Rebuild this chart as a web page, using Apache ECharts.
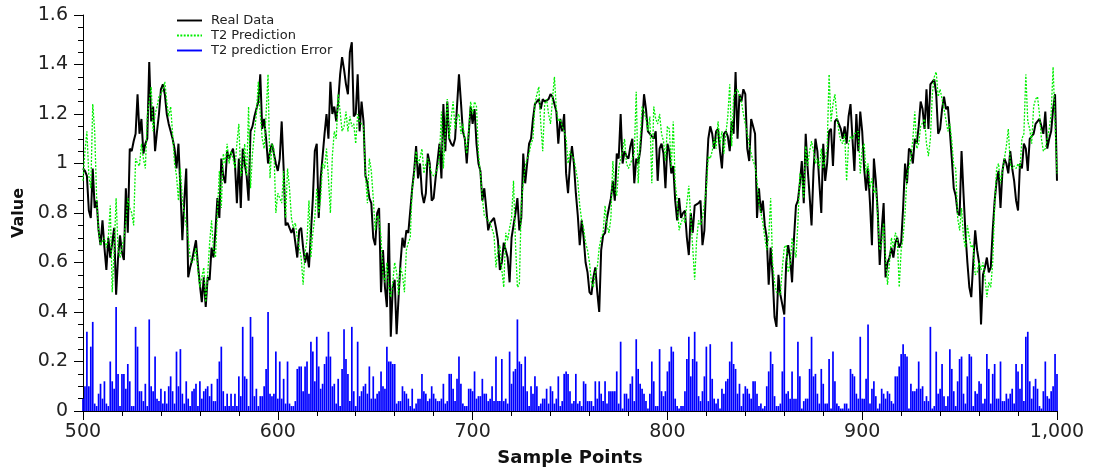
<!DOCTYPE html>
<html>
<head>
<meta charset="utf-8">
<script src="https://cdn.jsdelivr.net/npm/echarts@6/dist/echarts.min.js"></script>
<style>
  html, body { margin: 0; padding: 0; background: #fff; }
  #main { width: 1100px; height: 473px; }
</style>
</head>
<body>
<div id="main"></div>
<script>
// first sample index on the x axis
var startSample = 500;

// Real Data, samples 500..1000
var realData = [
  0.98, 0.97, 0.95, 0.81, 0.78, 0.98, 0.82, 0.85, 0.73, 0.67,
  0.77, 0.66, 0.57, 0.70, 0.62, 0.68, 0.74, 0.47, 0.62, 0.71,
  0.64, 0.61, 0.90, 0.72, 1.06, 1.05, 1.09, 1.12, 1.28, 1.12,
  1.18, 1.04, 1.08, 1.10, 1.41, 1.17, 1.23, 1.05, 1.13, 1.20,
  1.30, 1.32, 1.28, 1.20, 1.16, 1.13, 1.10, 1.06, 0.98, 1.08,
  0.90, 0.69, 0.85, 0.98, 0.54, 0.58, 0.61, 0.61, 0.69, 0.59,
  0.51, 0.44, 0.54, 0.42, 0.54, 0.53, 0.66, 0.62, 0.73, 0.86,
  0.78, 1.02, 0.95, 0.92, 1.05, 1.02, 1.04, 1.06, 1.00, 0.84,
  1.02, 0.82, 1.06, 1.00, 0.95, 0.85, 1.13, 1.15, 1.19, 1.19,
  1.25, 1.36, 1.14, 1.18, 1.10, 1.00, 1.05, 1.08, 1.04, 1.00,
  0.97, 1.02, 1.17, 0.98, 0.75, 0.76, 0.74, 0.72, 0.74, 0.74,
  0.62, 0.73, 0.74, 0.66, 0.60, 0.64, 0.58, 0.72, 0.86, 1.05,
  1.08, 0.78, 0.94, 1.03, 1.12, 1.20, 1.10, 1.33, 1.20, 1.23,
  1.17, 1.25, 1.36, 1.43, 1.38, 1.32, 1.28, 1.45, 1.49, 1.19,
  1.20, 1.36, 1.13, 1.25, 1.17, 0.95, 0.92, 0.86, 0.84, 0.70,
  0.67, 0.80, 0.82, 0.48, 0.65, 0.50, 0.42, 0.76, 0.30, 0.50,
  0.53, 0.31, 0.46, 0.60, 0.70, 0.66, 0.73, 0.72, 0.72, 0.90,
  0.97, 1.07, 0.94, 1.00, 0.88, 0.84, 0.88, 1.04, 1.00, 0.85,
  0.86, 0.94, 0.94, 1.08, 0.94, 1.24, 1.05, 1.25, 1.10, 1.08,
  1.07, 1.10, 1.23, 1.36, 1.25, 1.13, 1.10, 1.00, 1.12, 1.23,
  1.16, 1.22, 1.08, 1.00, 0.97, 0.85, 0.90, 0.82, 0.73, 0.76,
  0.76, 0.78, 0.74, 0.69, 0.57, 0.60, 0.68, 0.65, 0.62, 0.52,
  0.70, 0.75, 0.80, 0.86, 0.73, 0.78, 1.04, 0.92, 1.00, 1.08,
  1.10, 1.18, 1.24, 1.24, 1.26, 1.22, 1.26, 1.25, 1.25, 1.26,
  1.28, 1.27, 1.24, 1.21, 1.08, 1.18, 1.13, 1.20, 0.96, 0.88,
  1.00, 1.07, 1.00, 0.88, 0.79, 0.67, 0.77, 0.70, 0.60, 0.56,
  0.48, 0.47, 0.54, 0.58, 0.48, 0.40, 0.65, 0.71, 0.72, 0.78,
  0.82, 0.86, 0.93, 0.85, 1.04, 1.02, 1.20, 1.00, 1.05, 1.03,
  1.02, 1.07, 1.10, 0.92, 1.02, 1.00, 1.05, 1.15, 1.28, 1.22,
  1.13, 1.12, 1.12, 1.10, 1.13, 0.93, 1.06, 1.08, 1.04, 0.90,
  1.08, 1.05, 0.96, 0.99, 0.85, 0.77, 0.86, 0.78, 0.80, 0.81,
  0.70, 0.63, 0.80, 0.72, 0.83, 0.83, 0.84, 0.85, 0.67, 0.73,
  0.94, 1.10, 1.15, 1.12, 1.06, 1.13, 1.14, 1.05, 0.98, 1.12,
  1.13, 1.11, 1.05, 1.17, 1.12, 1.37, 1.10, 1.28, 1.25, 1.30,
  1.28, 1.06, 1.01, 1.18, 1.18, 1.12, 0.78, 0.90, 0.80, 0.85,
  0.75, 0.70, 0.51, 0.66, 0.55, 0.38, 0.34, 0.55, 0.47, 0.43,
  0.39, 0.60, 0.67, 0.62, 0.52, 0.70, 0.83, 0.85, 0.92, 1.01,
  0.84, 1.12, 0.98, 0.87, 0.75, 0.97, 1.10, 1.05, 0.92, 0.80,
  1.08, 0.93, 1.00, 1.13, 1.14, 0.99, 1.17, 1.18, 1.18, 1.14,
  1.10, 1.15, 1.08, 1.19, 1.24, 1.10, 0.97, 1.20, 1.05, 1.21,
  1.13, 0.98, 0.89, 0.98, 0.84, 0.67, 1.02, 0.93, 0.80, 0.59,
  0.73, 0.84, 0.54, 0.60, 0.62, 0.66, 0.62, 0.68, 0.70, 0.66,
  0.68, 0.82, 1.00, 0.92, 1.06, 1.05, 1.00, 1.10, 1.08, 1.15,
  1.25, 1.22, 1.14, 1.30, 1.14, 1.32, 1.33, 1.34, 1.28, 1.12,
  1.14, 1.22, 1.27, 1.22, 1.23, 1.13, 1.02, 0.90, 0.87, 0.80,
  0.79, 1.05, 0.88, 0.72, 0.60, 0.50, 0.46, 0.60, 0.73, 0.65,
  0.60, 0.35, 0.55, 0.58, 0.62, 0.56, 0.58, 0.73, 0.85, 0.93,
  0.97, 0.82, 0.97, 1.02, 1.00, 0.96, 1.05, 0.98, 0.93, 0.85,
  0.81, 1.00, 0.98, 1.08, 1.06, 0.97, 1.10, 1.10, 1.12, 1.16,
  1.16, 1.18, 1.15, 1.12, 1.21, 1.06, 1.10, 1.13, 1.22, 1.28,
  0.93
];

// T2 Prediction, samples 500..1000
var predData = [
  0.93, 1.05, 1.13, 0.95, 0.90, 1.24, 1.13, 0.86, 0.73, 0.67,
  0.67, 0.70, 0.66, 0.70, 0.83, 0.48, 0.65, 0.86, 0.65, 0.62,
  0.66, 0.70, 0.76, 0.86, 0.82, 0.80, 0.75, 1.02, 1.00, 0.99,
  1.08, 1.02, 0.98, 1.19, 1.25, 1.31, 1.13, 1.20, 1.23, 1.27,
  1.28, 1.30, 1.33, 1.25, 1.19, 1.23, 1.12, 1.00, 0.95, 0.85,
  0.98, 0.85, 0.80, 0.75, 0.70, 0.62, 0.60, 0.61, 0.66, 0.57,
  0.50, 0.54, 0.58, 0.44, 0.55, 0.68, 0.77, 0.65, 0.62, 0.80,
  0.97, 0.82, 1.04, 1.00, 1.08, 1.00, 1.05, 1.02, 0.98, 1.08,
  1.16, 0.95, 0.98, 1.08, 0.95, 1.23, 0.90, 1.04, 1.12, 1.20,
  1.33, 1.20, 1.10, 1.06, 1.20, 1.36, 0.94, 1.08, 1.06, 0.80,
  0.88, 0.88, 0.84, 0.97, 0.78, 0.98, 0.90, 0.78, 0.74, 0.76,
  0.70, 0.66, 0.62, 0.51, 0.64, 0.69, 0.85, 0.62, 0.72, 0.78,
  0.90, 0.80, 0.86, 1.00, 0.98, 1.06, 0.94, 0.80, 1.03, 1.13,
  1.10, 1.28, 1.21, 1.13, 1.15, 1.21, 1.13, 1.19, 1.15, 1.16,
  1.08, 1.20, 1.17, 1.17, 1.15, 0.95, 0.84, 1.02, 0.97, 0.86,
  0.73, 0.79, 0.78, 0.70, 0.55, 0.52, 0.60, 0.50, 0.46, 0.52,
  0.60, 0.56, 0.47, 0.58, 0.55, 0.48, 0.65, 0.68, 0.70, 0.90,
  0.95, 1.05, 1.00, 1.02, 1.06, 0.96, 1.00, 1.02, 0.99, 0.96,
  0.95, 0.96, 0.98, 1.03, 1.21, 0.98, 1.13, 1.26, 1.10, 1.18,
  1.25, 1.14, 1.19, 1.20, 1.12, 1.16, 1.10, 1.04, 1.13, 1.25,
  1.20, 1.25, 1.23, 1.04, 0.96, 0.86, 0.79, 0.78, 0.77, 0.76,
  0.76, 0.71, 0.58, 0.65, 0.67, 0.57, 0.50, 0.72, 0.69, 0.74,
  0.78, 0.93, 0.68, 0.50, 0.51, 0.84, 0.92, 0.99, 1.02, 1.04,
  1.08, 1.10, 1.24, 1.28, 1.31, 1.16, 1.05, 1.24, 1.26, 1.20,
  1.16, 1.26, 1.35, 1.22, 1.17, 1.18, 1.15, 1.13, 1.10, 1.00,
  1.05, 1.03, 1.02, 1.02, 0.93, 0.83, 0.77, 0.74, 0.68, 0.65,
  0.60, 0.52, 0.50, 0.56, 0.58, 0.66, 0.70, 0.72, 0.83, 0.75,
  0.72, 0.78, 1.01, 0.90, 0.87, 0.98, 1.02, 1.05, 1.10, 1.00,
  0.98, 1.00, 1.02, 1.04, 1.29, 0.92, 1.09, 1.23, 1.21, 1.18,
  1.13, 1.19, 0.92, 1.23, 1.18, 1.16, 1.20, 1.12, 1.09, 1.01,
  1.15, 1.14, 0.98, 1.17, 0.92, 0.85, 0.73, 0.76, 0.78, 0.76,
  0.84, 0.91, 0.78, 0.66, 0.53, 0.69, 0.77, 0.75, 0.78, 0.78,
  0.90, 1.03, 1.02, 1.05, 1.10, 1.06, 1.17, 1.08, 1.13, 1.04,
  1.12, 1.19, 1.32, 1.07, 1.27, 1.29, 1.30, 1.30, 1.25, 1.20,
  1.16, 1.12, 1.08, 1.04, 1.01, 0.99, 0.93, 0.84, 0.80, 0.76,
  0.70, 0.65, 0.70, 0.86, 0.60, 0.52, 0.48, 0.48, 0.47, 0.58,
  0.66, 0.67, 0.56, 0.59, 0.70, 0.66, 0.62, 0.76, 0.96, 0.94,
  0.86, 1.07, 0.99, 1.05, 1.09, 1.05, 1.00, 1.02, 0.98, 1.06,
  0.98, 1.02, 1.06, 1.36, 1.17, 1.24, 1.28, 1.19, 1.13, 1.09,
  1.08, 1.12, 0.93, 1.08, 1.11, 1.10, 1.12, 1.12, 1.13, 0.96,
  1.06, 1.08, 0.96, 1.00, 0.90, 0.94, 0.88, 0.90, 0.78, 0.65,
  0.68, 0.76, 0.62, 0.51, 0.60, 0.70, 0.66, 0.72, 0.70, 0.50,
  0.65, 0.70, 0.80, 0.95, 0.95, 1.02, 1.10, 1.21, 1.06, 1.08,
  1.15, 1.15, 1.18, 1.08, 1.03, 1.10, 1.28, 1.35, 1.37, 1.27,
  1.30, 1.26, 1.22, 1.22, 1.13, 1.16, 1.09, 0.99, 0.98, 0.78,
  0.73, 0.82, 0.70, 0.66, 0.75, 0.70, 0.66, 0.67, 0.55, 0.56,
  0.60, 0.57, 0.60, 0.54, 0.46, 0.52, 0.50, 0.60, 0.83, 0.98,
  1.00, 0.92, 0.97, 1.02, 1.07, 1.14, 1.00, 0.98, 0.99, 0.98,
  1.00, 0.98, 1.10, 1.12, 1.36, 1.17, 1.14, 1.08, 1.23, 1.26,
  1.27, 1.20, 1.10, 1.05, 1.06, 1.10, 1.14, 1.20, 1.39, 1.16,
  0.96
];

// T2 prediction Error, samples 500..1000
var errorData = [
  0.05, 0.10, 0.32, 0.10, 0.26, 0.36, 0.03, 0.02, 0.07, 0.11,
  0.05, 0.12, 0.03, 0.02, 0.20, 0.12, 0.09, 0.42, 0.15, 0.02,
  0.15, 0.15, 0.09, 0.19, 0.12, 0.02, 0.02, 0.34, 0.26, 0.08,
  0.08, 0.04, 0.11, 0.02, 0.37, 0.10, 0.08, 0.22, 0.05, 0.04,
  0.09, 0.03, 0.08, 0.03, 0.10, 0.14, 0.08, 0.03, 0.24, 0.10,
  0.25, 0.07, 0.03, 0.12, 0.05, 0.02, 0.08, 0.09, 0.11, 0.02,
  0.12, 0.05, 0.08, 0.09, 0.10, 0.06, 0.11, 0.04, 0.04, 0.13,
  0.20, 0.26, 0.08, 0.02, 0.07, 0.02, 0.07, 0.02, 0.07, 0.02,
  0.14, 0.06, 0.34, 0.14, 0.13, 0.02, 0.38, 0.30, 0.06, 0.09,
  0.02, 0.06, 0.06, 0.10, 0.17, 0.40, 0.07, 0.06, 0.07, 0.24,
  0.05, 0.20, 0.05, 0.13, 0.03, 0.20, 0.03, 0.02, 0.02, 0.04,
  0.17, 0.18, 0.18, 0.08, 0.18, 0.20, 0.07, 0.28, 0.24, 0.12,
  0.30, 0.18, 0.09, 0.11, 0.19, 0.22, 0.32, 0.22, 0.10, 0.11,
  0.03, 0.13, 0.02, 0.17, 0.33, 0.21, 0.15, 0.04, 0.34, 0.08,
  0.02, 0.28, 0.06, 0.08, 0.10, 0.11, 0.07, 0.18, 0.05, 0.14,
  0.05, 0.07, 0.08, 0.16, 0.10, 0.09, 0.26, 0.20, 0.20, 0.19,
  0.19, 0.03, 0.04, 0.04, 0.10, 0.08, 0.07, 0.05, 0.02, 0.09,
  0.01, 0.03, 0.05, 0.05, 0.15, 0.08, 0.07, 0.04, 0.05, 0.10,
  0.07, 0.05, 0.04, 0.04, 0.05, 0.11, 0.03, 0.04, 0.15, 0.15,
  0.09, 0.04, 0.13, 0.22, 0.11, 0.03, 0.02, 0.02, 0.09, 0.09,
  0.08, 0.16, 0.05, 0.06, 0.06, 0.13, 0.07, 0.07, 0.04, 0.05,
  0.10, 0.04, 0.22, 0.04, 0.04, 0.21, 0.04, 0.05, 0.03, 0.24,
  0.11, 0.16, 0.17, 0.37, 0.20, 0.19, 0.10, 0.22, 0.08, 0.02,
  0.10, 0.07, 0.14, 0.10, 0.02, 0.03, 0.05, 0.05, 0.09, 0.03,
  0.10, 0.08, 0.03, 0.05, 0.14, 0.02, 0.04, 0.15, 0.16, 0.15,
  0.08, 0.03, 0.04, 0.15, 0.03, 0.04, 0.02, 0.12, 0.11, 0.04,
  0.04, 0.04, 0.02, 0.12, 0.05, 0.12, 0.07, 0.04, 0.12, 0.03,
  0.08, 0.08, 0.08, 0.08, 0.16, 0.03, 0.28, 0.01, 0.07, 0.07,
  0.05, 0.11, 0.14, 0.04, 0.29, 0.17, 0.11, 0.09, 0.07, 0.04,
  0.01, 0.07, 0.20, 0.12, 0.02, 0.02, 0.25, 0.08, 0.06, 0.08,
  0.16, 0.20, 0.26, 0.24, 0.05, 0.02, 0.01, 0.02, 0.02, 0.08,
  0.21, 0.30, 0.14, 0.21, 0.32, 0.20, 0.06, 0.04, 0.08, 0.14,
  0.26, 0.04, 0.27, 0.13, 0.05, 0.03, 0.05, 0.01, 0.09, 0.07,
  0.12, 0.13, 0.20, 0.28, 0.19, 0.17, 0.07, 0.11, 0.02, 0.07,
  0.10, 0.09, 0.07, 0.05, 0.12, 0.12, 0.07, 0.02, 0.03, 0.01,
  0.02, 0.10, 0.16, 0.24, 0.19, 0.06, 0.02, 0.02, 0.03, 0.16,
  0.38, 0.07, 0.08, 0.05, 0.16, 0.05, 0.05, 0.28, 0.14, 0.01,
  0.04, 0.05, 0.05, 0.17, 0.30, 0.14, 0.15, 0.07, 0.03, 0.17,
  0.11, 0.03, 0.03, 0.21, 0.01, 0.24, 0.12, 0.03, 0.02, 0.01,
  0.01, 0.03, 0.03, 0.01, 0.17, 0.15, 0.14, 0.07, 0.05, 0.30,
  0.05, 0.05, 0.13, 0.35, 0.03, 0.09, 0.12, 0.06, 0.01, 0.03,
  0.09, 0.07, 0.05, 0.08, 0.07, 0.04, 0.03, 0.14, 0.14, 0.18,
  0.23, 0.27, 0.23, 0.22, 0.01, 0.11, 0.08, 0.08, 0.09, 0.20,
  0.09, 0.10, 0.04, 0.06, 0.04, 0.34, 0.01, 0.02, 0.24, 0.07,
  0.09, 0.19, 0.06, 0.02, 0.06, 0.25, 0.17, 0.08, 0.02, 0.12,
  0.21, 0.22, 0.07, 0.03, 0.14, 0.23, 0.22, 0.02, 0.08, 0.07,
  0.12, 0.11, 0.03, 0.05, 0.23, 0.17, 0.03, 0.15, 0.19, 0.05,
  0.05, 0.20, 0.04, 0.04, 0.07, 0.05, 0.07, 0.09, 0.03, 0.19,
  0.16, 0.09, 0.19, 0.04, 0.30, 0.32, 0.12, 0.05, 0.10, 0.13,
  0.09, 0.02, 0.01, 0.08, 0.20, 0.06, 0.05, 0.08, 0.10, 0.23,
  0.15
];

var chart = echarts.init(document.getElementById('main'), null, { renderer: 'canvas' });

// pair each value with its sample index
function withIndex(arr) {
  return arr.map(function (v, i) { return [startSample + i, v]; });
}

var fontFamily = 'DejaVu Sans';

// legend icons: plain line, dotted line
var solidIcon = 'path://M0,0 L26,0 L26,2 L0,2 Z';
var dottedIcon = 'path://M0,0h2v2h-2z M3.5,0h2v2h-2z M7,0h2v2h-2z M10.5,0h2v2h-2z ' +
  'M14,0h2v2h-2z M17.5,0h2v2h-2z M21,0h2v2h-2z M24.5,0h1.5v2h-1.5z';

var option = {
  animation: false,
  backgroundColor: '#fff',
  textStyle: { fontFamily: fontFamily },
  grid: {
    left: 83,
    right: 43,
    top: 15,
    bottom: 62
  },
  legend: {
    orient: 'vertical',
    left: 172,
    top: 8,
    itemWidth: 25,
    itemHeight: 10,
    itemGap: 0,
    textStyle: {
      fontFamily: fontFamily,
      fontSize: 13,
      color: '#222',
      lineHeight: 15,
      padding: [0, 0, 0, 4]
    },
    data: [
      { name: 'Real Data', icon: solidIcon },
      { name: 'T2 Prediction', icon: dottedIcon },
      { name: 'T2 prediction Error', icon: solidIcon }
    ]
  },
  xAxis: {
    type: 'value',
    min: 500,
    max: 1000,
    interval: 100,
    name: 'Sample Points',
    nameLocation: 'middle',
    nameGap: 38,
    nameTextStyle: {
      fontFamily: fontFamily,
      fontWeight: 'bold',
      fontSize: 18,
      color: '#111'
    },
    splitLine: { show: false },
    axisLine: { lineStyle: { color: '#000', width: 1 } },
    axisTick: { inside: false, length: 9, lineStyle: { color: '#000' } },
    minorTick: { show: true, splitNumber: 5, length: 5, lineStyle: { color: '#000' } },
    axisLabel: {
      fontFamily: fontFamily,
      fontSize: 19,
      color: '#222',
      margin: 12,
      formatter: function (v) { return v.toLocaleString('en-US'); }
    }
  },
  yAxis: {
    type: 'value',
    min: 0,
    max: 1.6,
    interval: 0.2,
    name: 'Value',
    nameLocation: 'middle',
    nameGap: 55,
    nameTextStyle: {
      fontFamily: fontFamily,
      fontWeight: 'bold',
      fontSize: 16,
      color: '#111'
    },
    splitLine: { show: false },
    axisLine: { show: true, lineStyle: { color: '#000', width: 1 } },
    axisTick: { show: true, inside: false, length: 9, lineStyle: { color: '#000' } },
    minorTick: { show: true, splitNumber: 4, length: 5, lineStyle: { color: '#000' } },
    axisLabel: {
      fontFamily: fontFamily,
      fontSize: 19,
      color: '#222',
      margin: 15
    }
  },
  series: [
    {
      name: 'Real Data',
      type: 'line',
      data: withIndex(realData),
      showSymbol: false,
      symbol: 'none',
      color: '#000',
      lineStyle: { color: '#000', width: 2 },
      z: 2
    },
    {
      name: 'T2 Prediction',
      type: 'line',
      data: withIndex(predData),
      showSymbol: false,
      symbol: 'none',
      color: '#00ee00',
      lineStyle: { color: '#00ee00', width: 1.3, type: [2, 1.5] },
      z: 3
    },
    {
      name: 'T2 prediction Error',
      type: 'bar',
      data: withIndex(errorData),
      barWidth: 1.7,
      color: '#0000ff',
      itemStyle: { color: '#0000ff' },
      z: 4
    }
  ]
};

chart.setOption(option);
</script>
</body>
</html>
